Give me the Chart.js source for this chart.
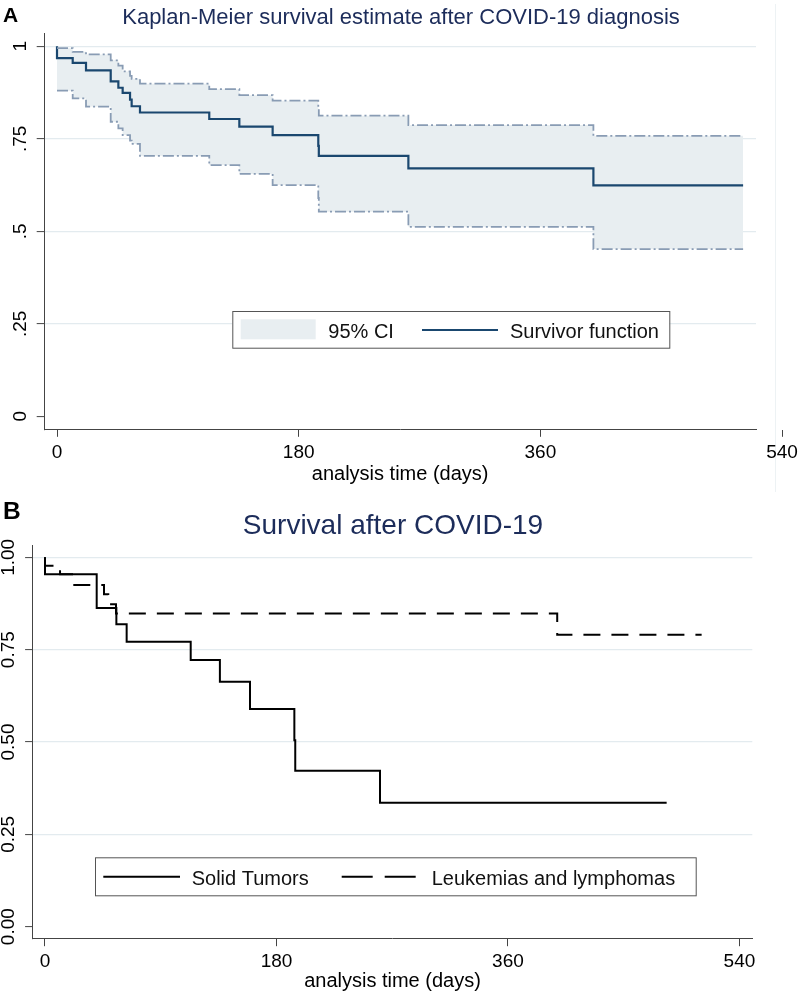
<!DOCTYPE html>
<html><head><meta charset="utf-8">
<script src="https://cdn.jsdelivr.net/npm/chart.js@4.4.1/dist/chart.umd.min.js"></script>
<style>
body{margin:0;background:#fff;}
#page{position:relative;width:800px;height:994px;overflow:hidden;font-family:"Liberation Sans",Arial,sans-serif;background:#fff;}
.lbl{position:absolute;line-height:1;white-space:nowrap;}
.box{position:absolute;left:0;width:800px;}
canvas{display:block;}
</style></head>
<body><div id="page">
<div class="box" style="top:0;height:495px"><canvas id="c1" width="800" height="495"></canvas></div>
<div class="box" style="top:495px;height:499px"><canvas id="c2" width="800" height="499"></canvas></div>
<div class="lbl" style="left:3px;top:3.9px;font-weight:bold;font-size:21px;color:#000">A</div>
<div class="lbl" style="left:0;width:802px;text-align:center;top:6.4px;font-size:22px;color:#1c2c5a">Kaplan-Meier survival estimate after COVID-19 diagnosis</div>
<div class="lbl" style="left:3px;top:498.6px;font-weight:bold;font-size:24.5px;color:#000">B</div>
<div class="lbl" style="left:0;width:786px;text-align:center;top:511.3px;font-size:28px;color:#1c2c5a">Survival after COVID-19</div>
</div>
<script>
// ---------- Panel A data ----------
const kmTime = [0, 0, 11.7, 21.6, 40, 45.7, 48.9, 54.4, 55.6, 61.8, 113.4, 135.8, 160.6, 194.6, 195, 261.7, 399.5, 511];
const kmSurv = [1, 0.968, 0.955, 0.935, 0.905, 0.888, 0.874, 0.856, 0.838, 0.821, 0.8035, 0.783, 0.760, 0.731, 0.704, 0.670, 0.624, 0.624];
const ciTime = [0, 11.7, 21.6, 40, 45.7, 48.9, 54.4, 55.6, 61.8, 113.4, 135.8, 160.6, 194.6, 195, 261.7, 399.5, 511];
const ciUpper = [0.995, 0.985, 0.978, 0.962, 0.948, 0.932, 0.920, 0.912, 0.899, 0.884, 0.868, 0.853, 0.830, 0.8125, 0.787, 0.758, 0.758];
const ciLower = [0.880, 0.859, 0.837, 0.796, 0.778, 0.760, 0.745, 0.736, 0.704, 0.679, 0.655, 0.625, 0.590, 0.553, 0.512, 0.452, 0.452];
const namesA = ['95% CI', 'Survivor function'];
const xTickValsA = [0, 180, 360, 540];
const xTickLabsA = ['0', '180', '360', '540'];
const yTickValsA = [0, 0.25, 0.5, 0.75, 1];
const yTickLabsA = ['0', '.25', '.5', '.75', '1'];

// ---------- Panel B data ----------
const solidTime = [0, 0, 40.2, 55.5, 63.5, 113.3, 136, 159.4, 193.9, 194.6, 260.5, 483.4];
const solidSurv = [1, 0.954, 0.863, 0.8186, 0.7715, 0.722, 0.663, 0.589, 0.505, 0.422, 0.3357, 0.3357];
const leukTime = [0, 0, 11.7, 22, 45.9, 49.2, 55.2, 398.3, 510.6];
const leukSurv = [1, 0.977, 0.954, 0.925, 0.900, 0.873, 0.848, 0.790, 0.790];
const namesB = ['Solid Tumors', 'Leukemias and lymphomas'];
const xTickValsB = [0, 180, 360, 540];
const xTickLabsB = ['0', '180', '360', '540'];
const yTickValsB = [0, 0.25, 0.5, 0.75, 1];
const yTickLabsB = ['0.00', '0.25', '0.50', '0.75', '1.00'];
const xTitle = 'analysis time (days)';

const FAM = '"Liberation Sans", Arial, sans-serif';
const GRID = '#e3ebef';
const AXIS = '#444';

const toPts = (xs, ys) => xs.map((x, i) => ({x: x, y: ys[i]}));

const boxLegend = {
  id: 'boxLegend',
  afterDraw(chart, args, o) {
    const ctx = chart.ctx;
    ctx.save();
    ctx.fillStyle = '#fff';
    ctx.fillRect(o.x, o.y, o.w, o.h);
    ctx.strokeStyle = '#555';
    ctx.lineWidth = 1;
    ctx.strokeRect(o.x + 0.5, o.y + 0.5, o.w, o.h);
    ctx.font = '20px ' + FAM;
    ctx.fillStyle = '#111';
    ctx.textBaseline = 'alphabetic';
    o.items.forEach(it => {
      if (it.type === 'rect') {
        ctx.fillStyle = it.color;
        ctx.fillRect(it.x1, it.y1, it.x2 - it.x1, it.y2 - it.y1);
      } else {
        ctx.beginPath();
        ctx.strokeStyle = it.color;
        ctx.lineWidth = it.width;
        ctx.setLineDash(it.dash || []);
        ctx.moveTo(it.x1, it.y);
        ctx.lineTo(it.x2, it.y);
        ctx.stroke();
        ctx.setLineDash([]);
      }
      ctx.fillStyle = '#111';
      ctx.fillText(it.text, it.tx, it.ty);
    });
    ctx.restore();
  }
};

const regionLine = {
  id: 'regionLine',
  beforeDraw(chart, args, o) {
    if (!o.on) return;
    const ctx = chart.ctx;
    ctx.save();
    ctx.strokeStyle = '#edf2f4';
    ctx.lineWidth = 1;
    ctx.beginPath();
    ctx.moveTo(o.x, o.y1);
    ctx.lineTo(o.x, o.y2);
    ctx.stroke();
    ctx.restore();
  }
};

function scalesFor(cfg) {
  return {
    x: {
      type: 'linear', min: cfg.xmin, max: cfg.xmax,
      afterBuildTicks: s => { s.ticks = cfg.xv.map(v => ({value: v})); },
      afterFit: s => { s.height = cfg.xh; s.paddingLeft = 0; s.paddingRight = 0; },
      ticks: {
        autoSkip: false, maxRotation: 0, minRotation: 0, padding: cfg.xpad, color: '#000',
        font: {family: FAM, size: 19},
        callback: v => cfg.xl[cfg.xv.indexOf(v)]
      },
      grid: {drawOnChartArea: false, tickLength: 7.5, tickColor: AXIS, tickWidth: 1},
      border: {display: true, color: AXIS, width: 1},
      title: {display: true, text: xTitle, color: '#000', padding: 0, font: {family: FAM, size: 20, lineHeight: 1}}
    },
    y: {
      type: 'linear', min: cfg.ymin, max: cfg.ymax,
      afterBuildTicks: s => { s.ticks = cfg.yv.map(v => ({value: v})); },
      afterFit: s => { s.width = cfg.yw; s.paddingTop = 0; s.paddingBottom = 0; },
      ticks: {
        autoSkip: false, minRotation: 90, maxRotation: 90, crossAlign: 'center', padding: cfg.ypad, color: '#000',
        font: {family: FAM, size: 19},
        callback: v => cfg.yl[cfg.yv.indexOf(v)]
      },
      grid: {
        color: c => (c.tick && c.tick.value === 0) ? 'rgba(0,0,0,0)' : GRID,
        lineWidth: 1.2, tickLength: 7.6, tickColor: AXIS, tickWidth: 1
      },
      border: {display: true, color: AXIS, width: 1}
    }
  };
}

const common = {
  responsive: false, animation: false, events: [],
  elements: {point: {radius: 0}, line: {tension: 0}}
};

// ---------- Chart A ----------
new Chart(document.getElementById('c1'), {
  type: 'line',
  data: {
    datasets: [
      {label: namesA[0] + ' upper', data: toPts(ciTime, ciUpper), stepped: true, borderColor: 'rgb(137,156,180)',
       borderWidth: 1.8, borderDash: [11, 3, 2, 3], fill: '+1', backgroundColor: 'rgb(232,238,241)', pointRadius: 0},
      {label: namesA[0] + ' lower', data: toPts(ciTime, ciLower), stepped: true, borderColor: 'rgb(137,156,180)',
       borderWidth: 1.8, borderDash: [11, 3, 2, 3], fill: false, pointRadius: 0},
      {label: namesA[1], data: toPts(kmTime, kmSurv), stepped: true, borderColor: '#1a476f',
       borderWidth: 2.2, fill: false, pointRadius: 0}
    ]
  },
  options: Object.assign({}, common, {
    layout: {padding: {top: 33, right: 44, bottom: 11, left: 0}},
    scales: scalesFor({xmin: -9.46, xmax: 520.6, xv: xTickValsA, xl: xTickLabsA, xh: 54.7, xpad: 5,
                       ymin: -0.0351, ymax: 1.0359, yv: yTickValsA, yl: yTickLabsA, yw: 44.3, ypad: 2.7}),
    plugins: {
      legend: {display: false}, tooltip: {enabled: false},
      filler: {drawTime: 'beforeDatasetsDraw'},
      regionLine: {on: true, x: 775.5, y1: 4, y2: 492},
      boxLegend: {x: 232.3, y: 311, w: 437, h: 36.7, items: [
        {type: 'rect', color: 'rgb(232,238,241)', x1: 240.7, y1: 319.3, x2: 315.7, y2: 339.3, text: namesA[0], tx: 328.3, ty: 338.3},
        {type: 'line', color: '#1a476f', width: 2, x1: 422, x2: 498, y: 330, text: namesA[1], tx: 510, ty: 338.3}
      ]}
    }
  }),
  plugins: [boxLegend, regionLine]
});

// ---------- Chart B ----------
new Chart(document.getElementById('c2'), {
  type: 'line',
  data: {
    datasets: [
      {label: namesB[0], data: toPts(solidTime, solidSurv), stepped: true, borderColor: '#000',
       borderWidth: 2, fill: false, pointRadius: 0},
      {label: namesB[1], data: toPts(leukTime, leukSurv), stepped: true, borderColor: '#000',
       borderWidth: 2, borderDash: [17, 11], fill: false, pointRadius: 0}
    ]
  },
  options: Object.assign({}, common, {
    layout: {padding: {top: 50, right: 47.7, bottom: 3, left: 0}},
    scales: scalesFor({xmin: -9.56, xmax: 550, xv: xTickValsB, xl: xTickLabsB, xh: 52.3, xpad: 4.4,
                       ymin: -0.0325, ymax: 1.0333, yv: yTickValsB, yl: yTickLabsB, yw: 32.7, ypad: -1.8}),
    plugins: {
      legend: {display: false}, tooltip: {enabled: false},
      regionLine: {on: false},
      boxLegend: {x: 95, y: 362.3, w: 600.7, h: 38, items: [
        {type: 'line', color: '#000', width: 2, x1: 103.3, x2: 180, y: 381.7, text: namesB[0], tx: 191.7, ty: 390},
        {type: 'line', color: '#000', width: 2, dash: [31, 12], x1: 341.7, x2: 417.3, y: 381.7, text: namesB[1], tx: 431.7, ty: 390}
      ]}
    }
  }),
  plugins: [boxLegend, regionLine]
});
</script>
</body></html>
